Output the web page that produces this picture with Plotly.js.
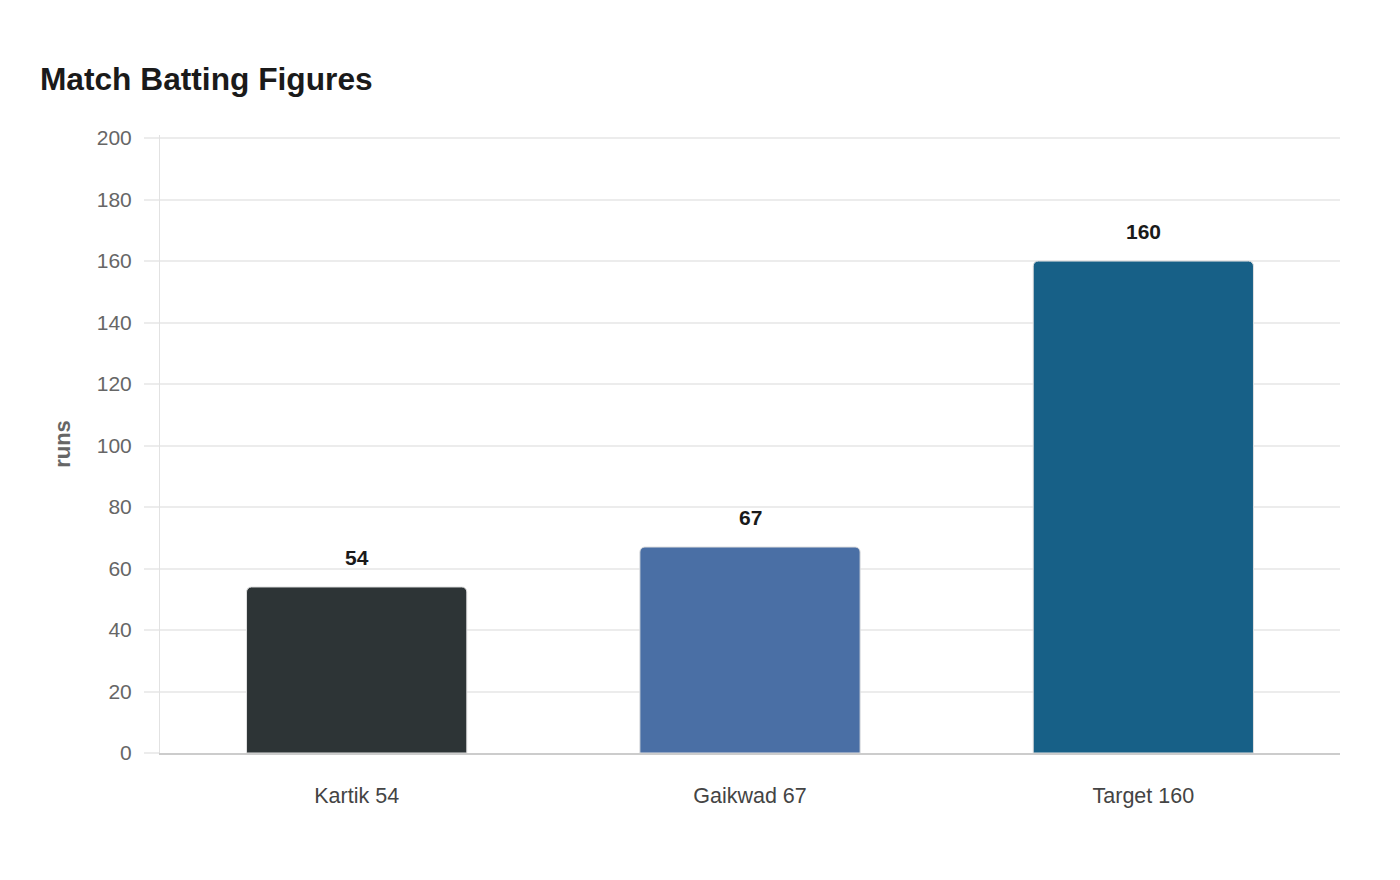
<!DOCTYPE html>
<html>
<head>
<meta charset="utf-8">
<script src="https://cdn.plot.ly/plotly-3.0.1.min.js"></script>
<style>
  html, body { margin: 0; padding: 0; background: #fff; }
  #chart { width: 1400px; height: 880px; }
</style>
</head>
<body>
<div id="chart"></div>
<script>
// batting figures
var players = ['Kartik 54', 'Gaikwad 67', 'Target 160'];
var runs = [54, 67, 160];
var barColors = ['#2d3436', '#4a6fa5', '#176087'];
var yTicks = [0, 20, 40, 60, 80, 100, 120, 140, 160, 180, 200];

var data = [{
    type: 'bar',
    x: players,
    y: runs,
    width: 0.56,
    marker: {
        color: barColors,
        cornerradius: 5,
        line: { color: '#e0e0e0', width: 1 }
    },
    hoverinfo: 'x+y'
}];

// value labels above the bars
var labels = players.map(function (p, i) {
    return {
        x: p, y: runs[i],
        xref: 'x', yref: 'y',
        text: '<b>' + runs[i] + '</b>',
        showarrow: false,
        yanchor: 'bottom',
        yshift: 16,
        font: { size: 21, color: '#1a1a1a' }
    };
});

var layout = {
    width: 1400,
    height: 880,
    paper_bgcolor: '#ffffff',
    plot_bgcolor: '#ffffff',
    font: { family: 'Liberation Sans, Arial, sans-serif', color: '#555' },
    title: {
        text: '<b>Match Batting Figures</b>',
        x: 0.0285, xanchor: 'left',
        y: 0.91, yanchor: 'middle',
        font: { size: 31.7, color: '#1a1a1a' }
    },
    margin: { l: 160, r: 60, t: 135, b: 127 },
    showlegend: false,
    annotations: labels,
    xaxis: {
        showgrid: false,
        showline: true,
        linecolor: '#cccccc',
        linewidth: 2,
        ticks: '',
        ticklabelstandoff: 22,
        tickfont: { size: 21.5, color: '#444' }
    },
    yaxis: {
        range: [0, 201],
        tickvals: yTicks,
        showgrid: true,
        gridcolor: '#ececec',
        gridwidth: 1.5,
        zeroline: false,
        showline: true,
        linecolor: '#e2e2e2',
        linewidth: 1,
        ticks: 'outside',
        ticklen: 15,
        tickcolor: '#ececec',
        tickwidth: 1.5,
        ticklabelstandoff: 8,
        tickfont: { size: 21, color: '#666' },
        title: {
            text: '<b>runs</b>',
            standoff: 20,
            font: { size: 22, color: '#666' }
        }
    }
};

Plotly.newPlot('chart', data, layout, { displayModeBar: false });
</script>
</body>
</html>
